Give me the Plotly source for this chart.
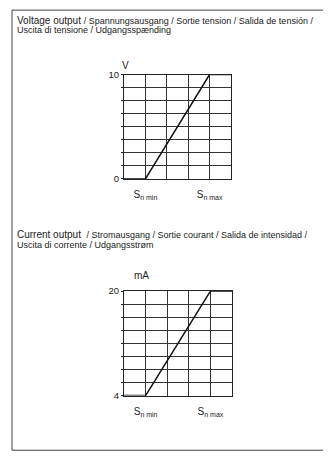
import plotly.graph_objects as go

W, H = 331, 457
OFF = 8  # page body margin offset of the figure in the browser window

# ---- data ----
x_positions = [0, 1, 4, 5]           # grid columns; S_n min at 1, S_n max at 4
voltage_values = [0, 0, 10, 10]       # V
current_values = [4, 4, 20, 20]       # mA
x_grid = [0, 1, 2, 3, 4, 5]
x_tick_vals = [1, 4]
x_tick_text = ["S<sub>n min</sub>", "S<sub>n max</sub>"]
v_grid = [0, 1.25, 2.5, 3.75, 5, 6.25, 7.5, 8.75, 10]
v_ticktext = ["0", "", "", "", "", "", "", "", "10"]
i_grid = [4, 6, 8, 10, 12, 14, 16, 18, 20]
i_ticktext = ["4", "", "", "", "", "", "", "", "20"]

FONT = "Liberation Sans, Arial, Helvetica, sans-serif"

def px(x):
    return (x - OFF) / W

def py(y):
    return 1 - (y - OFF) / H

fig = go.Figure()
fig.add_trace(go.Scatter(x=x_positions, y=voltage_values, mode="lines",
                         line=dict(color="#111", width=1.5), cliponaxis=False,
                         xaxis="x", yaxis="y", showlegend=False, hoverinfo="skip"))
fig.add_trace(go.Scatter(x=x_positions, y=current_values, mode="lines",
                         line=dict(color="#111", width=1.5), cliponaxis=False,
                         xaxis="x2", yaxis="y2", showlegend=False, hoverinfo="skip"))

xcommon = dict(range=[0, 5], tickmode="array", tickvals=x_tick_vals, ticktext=x_tick_text,
               showgrid=False, zeroline=False, showline=True, linecolor="#222", linewidth=1,
               mirror=True, ticks="", tickfont=dict(size=10, color="#222", family=FONT),
               ticklabelstandoff=6, fixedrange=True)
ycommon = dict(showgrid=True, gridcolor="#333", gridwidth=1, zeroline=False, showline=True,
               linecolor="#222", linewidth=1, mirror=True, ticks="outside", ticklen=2,
               tickcolor="#222", tickfont=dict(size=9.5, color="#222", family=FONT),
               fixedrange=True)

xminor = dict(tickvals=x_grid, showgrid=True, gridcolor="#333", gridwidth=1, ticks="")

fig.update_layout(
    width=W, height=H, margin=dict(l=0, r=0, t=0, b=0),
    paper_bgcolor="white", plot_bgcolor="white",
    font=dict(family=FONT, color="#222"),
    xaxis=dict(domain=[px(124), px(231)], anchor="y", minor=xminor, **xcommon),
    yaxis=dict(domain=[py(177), py(70)], anchor="x", range=[0, 10], tickmode="array",
               tickvals=v_grid, ticktext=v_ticktext, **ycommon),
    xaxis2=dict(domain=[px(124), px(232)], anchor="y2", minor=xminor, **xcommon),
    yaxis2=dict(domain=[py(399), py(292)], anchor="x2", range=[4, 20], tickmode="array",
                tickvals=i_grid, ticktext=i_ticktext, **ycommon),
)

# frame lines (left, top, bottom); the right side is open
for s in [dict(x0=px(12), x1=px(12), y0=py(4), y1=py(455)),
          dict(x0=px(12), x1=1, y0=py(4), y1=py(4)),
          dict(x0=px(12), x1=1, y0=py(455), y1=py(455))]:
    fig.add_shape(type="line", xref="paper", yref="paper", line=dict(color="#444", width=1), **s)

small = 9
def ann(text, x, y, size, xanchor="left"):
    fig.add_annotation(text=text, x=px(x), y=py(y), xref="paper", yref="paper",
                       xanchor=xanchor, yanchor="middle", showarrow=False,
                       font=dict(size=size, family=FONT, color="#222"))

ann("Voltage output <span style='font-size:%dpx'>/ Spannungsausgang / Sortie tension / Salida de tensión /</span>" % small,
    15, 14.5, 10)
ann("Uscita di tensione / Udgangsspænding", 15, 24.5, small)
ann("Current output  <span style='font-size:%dpx'>/ Stromausgang / Sortie courant / Salida de intensidad /</span>" % small,
    15, 234, 10)
ann("Uscita di corrente / Udgangsstrøm", 15, 244.5, small)

ann("V", 125.5, 61, 10, xanchor="center")
ann("mA", 141.5, 276, 10, xanchor="center")

fig.write_html("out.html")
